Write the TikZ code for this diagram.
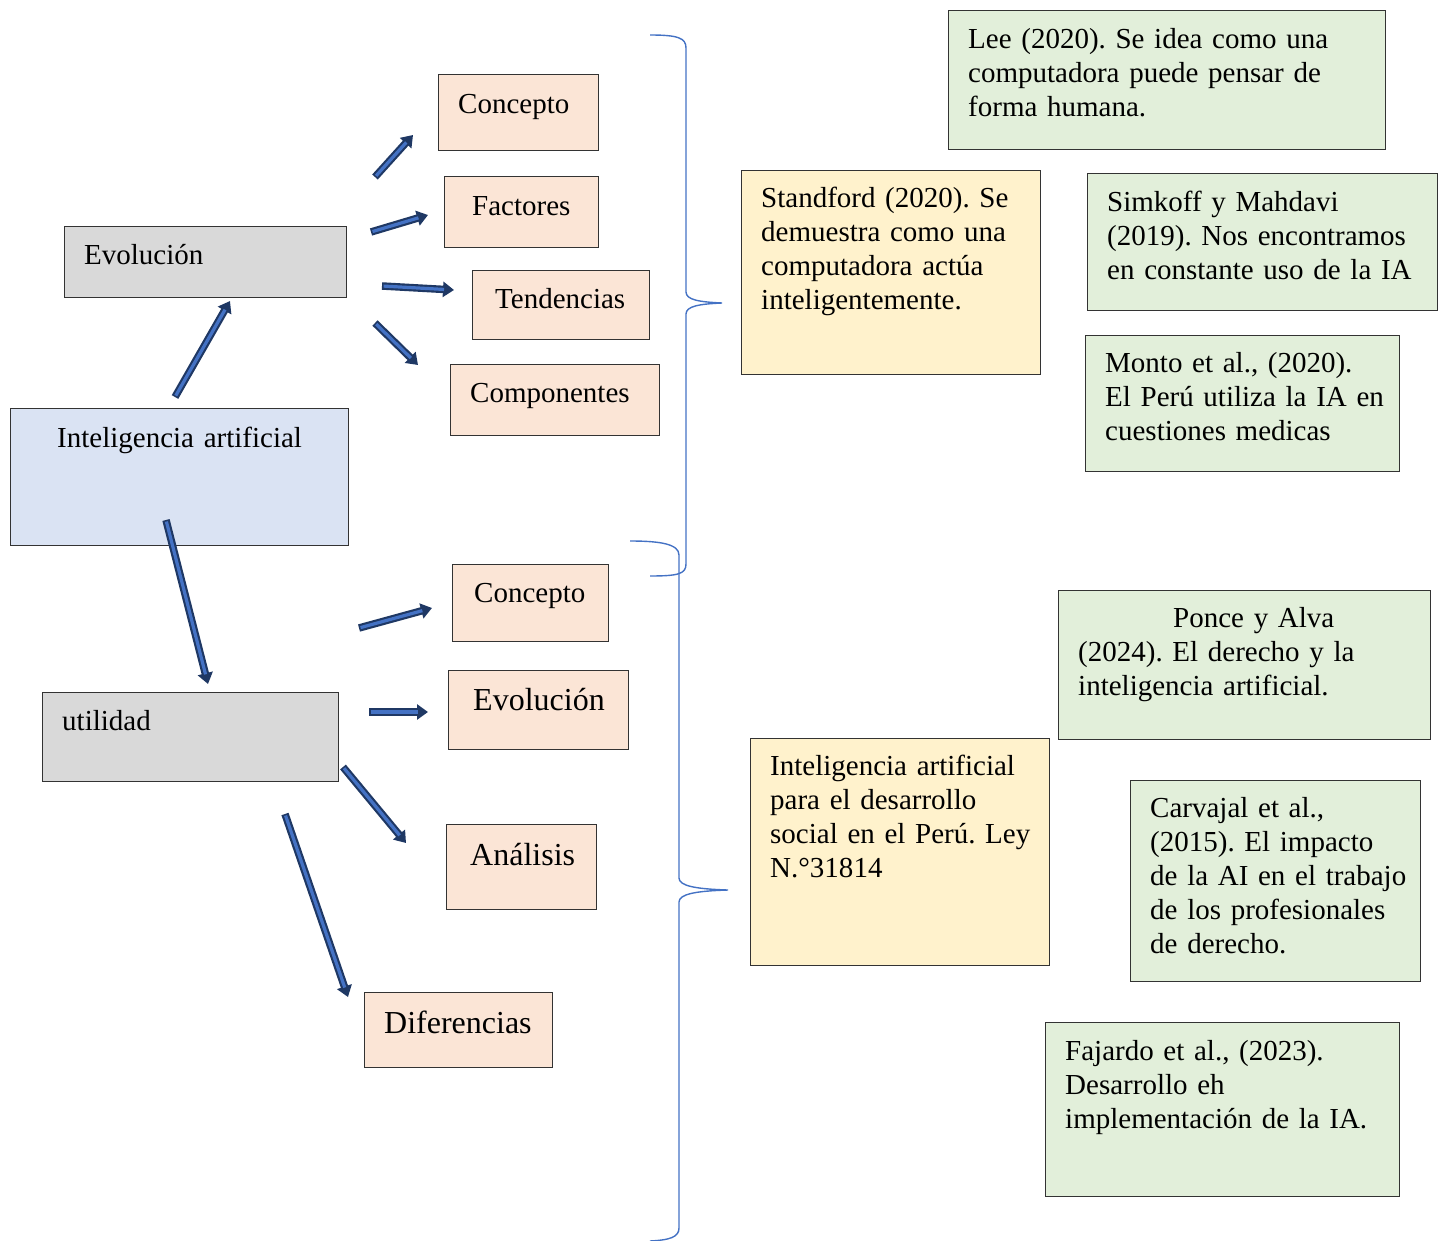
\documentclass[tikz,border=0pt]{standalone}
\usepackage{fontspec}
\setmainfont{Liberation Serif}
\usetikzlibrary{arrows.meta}
\frenchspacing
\definecolor{peach}{HTML}{FBE5D6}
\definecolor{grayb}{HTML}{D9D9D9}
\definecolor{blueb}{HTML}{DAE3F3}
\definecolor{yellowb}{HTML}{FFF2CC}
\definecolor{greenb}{HTML}{E2EFDA}
\definecolor{arrownavy}{HTML}{1F3864}
\definecolor{arrowblue}{HTML}{4472C4}
\definecolor{bracecol}{HTML}{4472C4}
\newcommand\fsnorm{\fontsize{29}{34}\selectfont\frenchspacing}
\newcommand\fsbig{\fontsize{32}{37}\selectfont\frenchspacing}
\tikzset{
  box/.style={draw=black!80, line width=1.2pt, inner sep=0pt, anchor=north west},
  txt/.style={inner sep=0pt, anchor=north west, align=left, text width=420pt, font=\fsnorm, execute at begin node=\strut},
  bigtxt/.style={txt, font=\fsbig},
  barrow/.style={draw=arrowblue, line width=3.2pt, shorten >=10pt, shorten <=1.6pt,
    preaction={draw=arrownavy, line width=7.5pt, shorten >=0pt, shorten <=0pt, -{Triangle[length=11pt,width=15pt]}}},
  brace/.style={draw=bracecol, line width=1.4pt}
}
\begin{document}
\begin{tikzpicture}[x=1pt,y=-1pt]
\useasboundingbox (0,0) rectangle (1447,1241);

% ---- left boxes ----
\node[box, fill=peach, minimum width=160pt, minimum height=76pt] (c1) at (438,74) {};
\node[txt] (c1t) at (458,89.2) {Concepto};
\node[box, fill=peach, minimum width=154pt, minimum height=71pt] (f1) at (444,176) {};
\node[txt] (f1t) at (472,191.2) {Factores};
\node[box, fill=peach, minimum width=177pt, minimum height=69pt] (t1) at (472,270) {};
\node[txt] (t1t) at (495,284.2) {Tendencias};
\node[box, fill=peach, minimum width=209pt, minimum height=71pt] (k1) at (450,364) {};
\node[txt] (k1t) at (470,378.2) {Componentes};

\node[box, fill=grayb, minimum width=282pt, minimum height=71pt] (ev) at (64,226) {};
\node[txt] (evt) at (84,240.2) {Evolución};
\node[box, fill=blueb, minimum width=338pt, minimum height=137pt] (ia) at (10,408) {};
\node[txt] (iat) at (57,423.2) {Inteligencia artificial};
\node[box, fill=grayb, minimum width=296pt, minimum height=89pt] (ut) at (42,692) {};
\node[txt] (utt) at (62,706.2) {utilidad};

\node[box, fill=peach, minimum width=156pt, minimum height=77pt] (c2) at (452,564) {};
\node[txt] (c2t) at (474,578.2) {Concepto};
\node[box, fill=peach, minimum width=180pt, minimum height=79pt] (e2) at (448,670) {};
\node[bigtxt] (e2t) at (473,684.1) {Evolución};
\node[box, fill=peach, minimum width=150pt, minimum height=85pt] (an) at (446,824) {};
\node[bigtxt] (ant) at (470,839.1) {Análisis};
\node[box, fill=peach, minimum width=188pt, minimum height=75pt] (di) at (364,992) {};
\node[bigtxt] (dit) at (384,1007.1) {Diferencias};

% ---- right boxes ----
\node[box, fill=greenb, minimum width=437pt, minimum height=139pt] (lee) at (948,10) {};
\node[txt] (leet) at (968,24.2) {Lee (2020). Se idea como una\\computadora puede pensar de\\forma humana.};
\node[box, fill=yellowb, minimum width=299pt, minimum height=204pt] (st) at (741,170) {};
\node[txt] (stt) at (761,183.2) {Standford (2020). Se\\demuestra como una\\computadora actúa\\inteligentemente.};
\node[box, fill=greenb, minimum width=350pt, minimum height=137pt] (si) at (1087,173) {};
\node[txt] (sit) at (1107,187.2) {Simkoff y Mahdavi\\(2019). Nos encontramos\\en constante uso de la IA};
\node[box, fill=greenb, minimum width=314pt, minimum height=136pt] (mo) at (1085,335) {};
\node[txt] (mot) at (1105,348.2) {Monto et al., (2020).\\El Perú utiliza la IA en\\cuestiones medicas};

\node[box, fill=greenb, minimum width=372pt, minimum height=149pt] (po) at (1058,590) {};
\node[txt] (pot) at (1078,603.2) {\hspace*{95pt}Ponce y Alva\\(2024). El derecho y la\\inteligencia artificial.};
\node[box, fill=yellowb, minimum width=299pt, minimum height=227pt] (ley) at (750,738) {};
\node[txt] (leyt) at (770,751.2) {Inteligencia artificial\\para el desarrollo\\social en el Perú. Ley\\N.°31814};
\node[box, fill=greenb, minimum width=290pt, minimum height=201pt] (ca) at (1130,780) {};
\node[txt] (cat) at (1150,793.2) {Carvajal et al.,\\(2015). El impacto\\de la AI en el trabajo\\de los profesionales\\de derecho.};
\node[box, fill=greenb, minimum width=354pt, minimum height=174pt] (fa) at (1045,1022) {};
\node[txt] (fat) at (1065,1036.2) {Fajardo et al., (2023).\\Desarrollo eh\\implementación de la IA.};

% ---- braces ----
\draw[brace] (650,35) .. controls (678,35) and (686,38) .. (686,48)
  -- (686,292) .. controls (686,300) and (700,302) .. (722,303)
  .. controls (700,304) and (686,306) .. (686,314)
  -- (686,564) .. controls (686,574) and (678,576) .. (650,576);
\draw[brace] (630,541) .. controls (660,541) and (679,544) .. (679,555)
  -- (679,878) .. controls (679,886) and (696,889) .. (728,890)
  .. controls (696,891) and (679,894) .. (679,902)
  -- (679,1228) .. controls (679,1237) and (670,1240) .. (650,1241);

% ---- arrows ----
\coordinate (a1s) at (375,177); \coordinate (a1e) at (413,135);
\coordinate (a2s) at (371,232); \coordinate (a2e) at (428,215);
\coordinate (a3s) at (382,286); \coordinate (a3e) at (454,290);
\coordinate (a4s) at (375,323); \coordinate (a4e) at (418,365);
\coordinate (a5s) at (175,397); \coordinate (a5e) at (230,301);
\coordinate (a6s) at (166,520); \coordinate (a6e) at (208,684);
\coordinate (a7s) at (359,628); \coordinate (a7e) at (432,608);
\coordinate (a8s) at (369,712); \coordinate (a8e) at (428,712);
\coordinate (a9s) at (343,767); \coordinate (a9e) at (406,843);
\coordinate (a10s) at (285,814); \coordinate (a10e) at (348,997);
\foreach \i in {1,...,10} {\draw[barrow] (a\i s) -- (a\i e);}
\end{tikzpicture}
\end{document}
